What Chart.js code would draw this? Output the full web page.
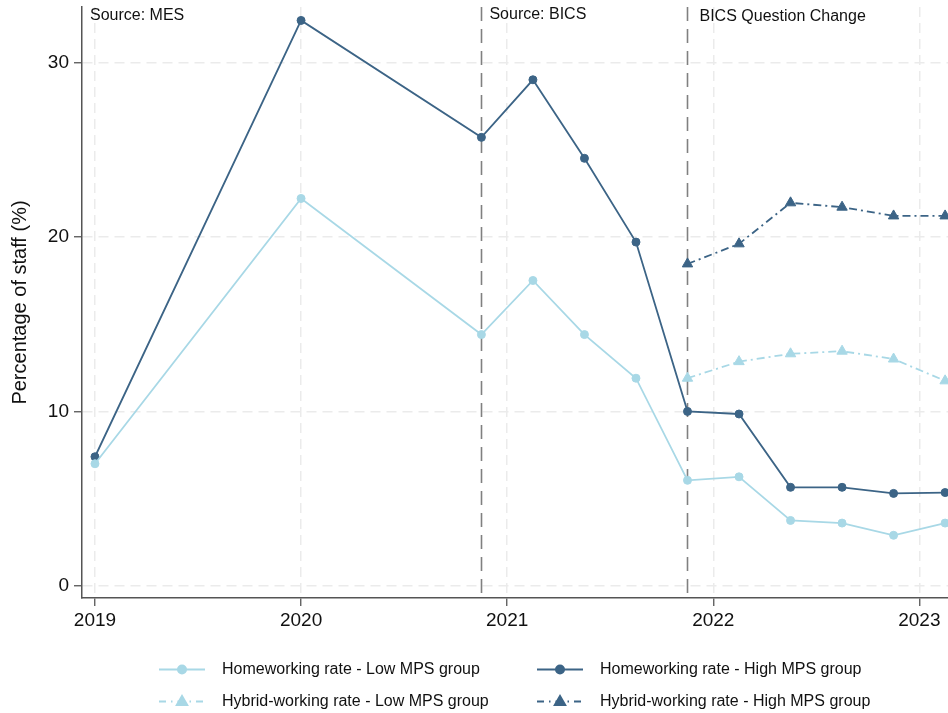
<!DOCTYPE html>
<html>
<head>
<meta charset="utf-8">
<script src="https://cdn.jsdelivr.net/npm/chart.js@4/dist/chart.umd.min.js"></script>
<style>
  html, body { margin: 0; padding: 0; background: #fff; }
  #wrap { width: 948px; height: 713px; }
</style>
</head>
<body>
<div id="wrap"><canvas id="c" width="948" height="713"></canvas></div>
<script>
// Survey periods (decimal years) and rates, % of staff
const periods = [2019, 2020, 2020.875, 2021.125, 2021.375, 2021.625, 2021.875, 2022.125, 2022.375, 2022.625, 2022.875, 2023.125];
const homeLow  = [7.0, 22.2, 14.4, 17.5, 14.4, 11.9, 6.05, 6.25, 3.75, 3.6, 2.9, 3.6];
const homeHigh = [7.4, 32.4, 25.7, 29.0, 24.5, 19.7, 10.0, 9.85, 5.65, 5.65, 5.3, 5.35];

const hybridPeriods = [2021.875, 2022.125, 2022.375, 2022.625, 2022.875, 2023.125];
const hybridLow  = [11.9, 12.85, 13.3, 13.45, 13.0, 11.75];
const hybridHigh = [18.45, 19.6, 21.95, 21.7, 21.2, 21.2];

const yearTicks  = [2019, 2020, 2021, 2022, 2023];
const valueTicks = [0, 10, 20, 30];

// Points where the data source / question wording changes
const sourceBreaks = [2020.875, 2021.875];
const sourceNotes  = ['Source: MES', 'Source: BICS', 'BICS Question Change'];

const seriesLabels = [
  'Homeworking rate - Low MPS group',
  'Homeworking rate - High MPS group',
  'Hybrid-working rate - Low MPS group',
  'Hybrid-working rate - High MPS group'
];

const FONT = "'Liberation Sans', Arial, Helvetica, sans-serif";
const darkBlue  = '#3c6486';
const lightBlue = '#a8d8e6';
const hybridDash = [8, 4, 2, 4];

const toPoints = (xs, ys) => xs.map((x, i) => ({ x: x, y: ys[i] }));

// Dashed source-break lines and their captions at the top of the plot
const breaksPlugin = {
  id: 'sourceBreaks',
  beforeDatasetsDraw(chart) {
    const { ctx, chartArea, scales } = chart;
    ctx.save();
    ctx.strokeStyle = '#808080';
    ctx.lineWidth = 1.6;
    ctx.setLineDash([14, 8]);
    sourceBreaks.forEach(v => {
      const x = Math.round(scales.x.getPixelForValue(v)) + 0.5;
      ctx.beginPath();
      ctx.moveTo(x, chartArea.top);
      ctx.lineTo(x, chartArea.bottom);
      ctx.stroke();
    });
    ctx.restore();

    const starts = [chartArea.left].concat(sourceBreaks.map(v => scales.x.getPixelForValue(v)));
    const offsets = [8, 8, 12];
    const baselines = [20, 18.5, 20.5];
    ctx.save();
    ctx.fillStyle = '#111';
    ctx.font = '16px ' + FONT;
    ctx.textBaseline = 'alphabetic';
    ctx.textAlign = 'left';
    sourceNotes.forEach((t, i) => ctx.fillText(t, starts[i] + offsets[i], baselines[i]));
    ctx.restore();
  }
};

// Two-column legend under the x axis
const legendPlugin = {
  id: 'twoColLegend',
  afterDraw(chart) {
    const { ctx } = chart;
    const slots = [
      { ds: 0, x: 159, y: 669 }, { ds: 1, x: 537, y: 669 },
      { ds: 2, x: 159, y: 701 }, { ds: 3, x: 537, y: 701 }
    ];
    ctx.save();
    slots.forEach(s => {
      const d = chart.data.datasets[s.ds];
      const hybrid = d.pointStyle === 'triangle';
      ctx.strokeStyle = d.borderColor;
      ctx.fillStyle = d.backgroundColor;
      ctx.lineWidth = 2;
      ctx.setLineDash(hybrid ? [7, 5, 1.5, 5] : []);
      ctx.beginPath();
      ctx.moveTo(s.x, s.y + 0.5);
      ctx.lineTo(s.x + 46, s.y + 0.5);
      ctx.stroke();
      ctx.setLineDash([]);
      Chart.helpers.drawPoint(ctx, {
        pointStyle: d.pointStyle,
        radius: hybrid ? 6 : 4,
        rotation: 0,
        borderWidth: 1
      }, s.x + 23, s.y + (hybrid ? 1 : 0.5));
      ctx.fillStyle = '#111';
      ctx.font = '16px ' + FONT;
      ctx.textAlign = 'left';
      ctx.textBaseline = 'middle';
      ctx.fillText(d.label, s.x + 63, s.y + 1);
    });
    ctx.restore();
  }
};

const lineSeries = (label, data, color, dashed) => ({
  label: label,
  data: data,
  borderColor: color,
  backgroundColor: color,
  borderWidth: 1.8,
  borderDash: dashed ? hybridDash : [],
  pointStyle: dashed ? 'triangle' : 'circle',
  pointRadius: dashed ? 6 : 4,
  pointBorderWidth: 1,
  pointHoverRadius: dashed ? 6 : 4,
  tension: 0,
  fill: false
});

// Pin the plot rectangle: no automatic padding for edge tick labels
const noEdgePadding = s => {
  s.paddingLeft = 0; s.paddingRight = 0; s.paddingTop = 0; s.paddingBottom = 0;
};

new Chart(document.getElementById('c'), {
  type: 'line',
  data: {
    datasets: [
      lineSeries(seriesLabels[0], toPoints(periods, homeLow), lightBlue, false),
      lineSeries(seriesLabels[1], toPoints(periods, homeHigh), darkBlue, false),
      lineSeries(seriesLabels[2], toPoints(hybridPeriods, hybridLow), lightBlue, true),
      lineSeries(seriesLabels[3], toPoints(hybridPeriods, hybridHigh), darkBlue, true)
    ]
  },
  options: {
    responsive: false,
    animation: false,
    layout: { autoPadding: false, padding: { top: 7, left: 0, right: 0, bottom: 0 } },
    plugins: { legend: { display: false }, tooltip: { enabled: false } },
    scales: {
      x: {
        type: 'linear',
        min: 2018.937,
        max: 2023.139,
        afterBuildTicks: s => { s.ticks = yearTicks.map(v => ({ value: v })); },
        afterFit: s => { s.height = 115; noEdgePadding(s); },
        ticks: {
          autoSkip: false, maxRotation: 0, padding: 3,
          color: '#111', font: { family: FONT, size: 19 },
          callback: v => String(v)
        },
        grid: { color: '#ebebeb', lineWidth: 1.5, tickColor: '#555', tickLength: 8, tickWidth: 1.3 },
        border: { color: '#555', width: 1.5, dash: [10, 6] }
      },
      y: {
        type: 'linear',
        min: -0.693,
        max: 33.17,
        afterBuildTicks: s => { s.ticks = valueTicks.map(v => ({ value: v })); },
        afterFit: s => { s.width = 82; noEdgePadding(s); },
        ticks: {
          padding: 5, color: '#111', font: { family: FONT, size: 19 },
          callback: v => String(v)
        },
        grid: { color: '#ebebeb', lineWidth: 1.5, tickColor: '#555', tickLength: 8, tickWidth: 1.3 },
        border: { color: '#555', width: 1.5, dash: [10, 6] },
        title: {
          display: true, text: 'Percentage of staff (%)', color: '#111',
          font: { family: FONT, size: 20 }, padding: { top: 8, bottom: 0 }
        }
      }
    }
  },
  plugins: [breaksPlugin, legendPlugin]
});
</script>
</body>
</html>
